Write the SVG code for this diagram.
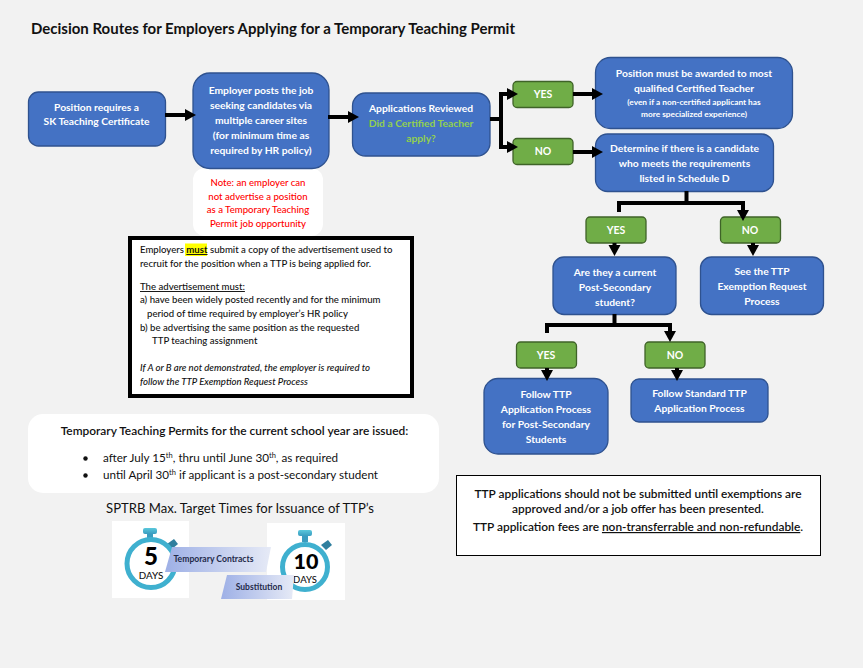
<svg xmlns="http://www.w3.org/2000/svg" width="863" height="668" viewBox="0 0 863 668">
<style>
text{font-family:Lato,Carlito,"Open Sans",sans-serif}
.b{fill:#4472c4;stroke:#2f528f;stroke-width:1.3}
.g{fill:#70ad47;stroke:#3f6328;stroke-width:1.3}
.w{fill:#fff;font-weight:700;font-size:10.3px;text-anchor:middle}
.gt{fill:#fff;font-weight:700;font-size:10.5px;text-anchor:middle}
.k{fill:#111;font-size:9.6px;font-weight:500}
.c{fill:none;stroke:#000;stroke-width:4}
.r{fill:#f00;font-size:9.6px;font-weight:500;text-anchor:middle}
.ring{fill:#fff;stroke:#3fb0cf;stroke-width:5}
</style>
<defs>
<marker id="a" markerUnits="userSpaceOnUse" markerWidth="14" markerHeight="14" refX="2" refY="6.500" orient="auto"><path d="M0 0.500L11 6.500L0 12.500Z" fill="#000"/></marker>
<linearGradient id="pg" x1="0" x2="1" y1="0" y2="0"><stop offset="0" stop-color="#9eb0e6"/><stop offset="1" stop-color="#e6eaf6"/></linearGradient>
<linearGradient id="cap" x1="0" x2="0" y1="0" y2="1"><stop offset="0" stop-color="#5ac8dc"/><stop offset="1" stop-color="#3a9cc0"/></linearGradient>
</defs>
<rect width="863" height="668" fill="#f2f2f2"/>
<text id="title" x="31" y="34" font-size="14.400" font-weight="700" fill="#111" textLength="484" lengthAdjust="spacingAndGlyphs">Decision Routes for Employers Applying for a Temporary Teaching Permit</text>

<g id="note"><rect x="193" y="168" width="130" height="68" rx="12" fill="#fff"/>
<text class="r"><tspan x="258" y="186">Note: an employer can</tspan><tspan x="258" y="200">not advertise a position</tspan><tspan x="258" y="213">as a Temporary Teaching</tspan><tspan x="258" y="227">Permit job opportunity</tspan></text></g>

<g id="n1"><rect class="b" x="28.500" y="92" width="137" height="54" rx="10"/>
<text class="w"><tspan x="96.500" y="111">Position requires a</tspan><tspan x="96.500" y="125">SK Teaching Certificate</tspan></text></g>
<g id="n2"><rect class="b" x="193" y="73" width="136" height="95.500" rx="17"/>
<text class="w"><tspan x="261" y="94">Employer posts the job</tspan><tspan x="261" y="109">seeking candidates via</tspan><tspan x="261" y="124">multiple career sites</tspan><tspan x="261" y="139">(for minimum time as</tspan><tspan x="261" y="154">required by HR policy)</tspan></text></g>
<g id="n3"><rect class="b" x="352.500" y="93" width="137.500" height="63" rx="13"/>
<text class="w"><tspan x="421" y="112">Applications Reviewed</tspan><tspan x="421" y="127" fill="#92d050">Did a Certified Teacher</tspan><tspan x="421" y="142" fill="#92d050">apply?</tspan></text></g>
<g id="yes1"><rect class="g" x="513" y="81.500" width="60" height="26" rx="4"/><text class="gt" x="543" y="98">YES</text></g>
<g id="no1"><rect class="g" x="513" y="138.500" width="60" height="26" rx="4"/><text class="gt" x="543" y="155">NO</text></g>
<g id="n4"><rect class="b" x="595.500" y="57.500" width="197" height="71" rx="15"/>
<text class="w"><tspan x="694" y="77">Position must be awarded to most</tspan><tspan x="694" y="92">qualified Certified Teacher</tspan><tspan x="694" y="105" font-size="8.300">(even if a non-certified applicant has</tspan><tspan x="694" y="117" font-size="8.300">more specialized experience)</tspan></text></g>
<g id="n5"><rect class="b" x="595.500" y="134" width="178" height="57.500" rx="12"/>
<text class="w"><tspan x="684.500" y="152">Determine if there is a candidate</tspan><tspan x="684.500" y="167">who meets the requirements</tspan><tspan x="684.500" y="182">listed in Schedule D</tspan></text></g>
<g id="yes2"><rect class="g" x="586" y="217" width="60" height="26" rx="4"/><text class="gt" x="616" y="234">YES</text></g>
<g id="no2"><rect class="g" x="720.500" y="217" width="60" height="26" rx="4"/><text class="gt" x="750" y="234">NO</text></g>
<g id="n6"><rect class="b" x="553" y="257" width="123" height="57.500" rx="11"/>
<text class="w"><tspan x="615" y="276">Are they a current</tspan><tspan x="615" y="291">Post-Secondary</tspan><tspan x="615" y="306">student?</tspan></text></g>
<g id="n7"><rect class="b" x="700.500" y="257" width="123" height="57.500" rx="11"/>
<text class="w"><tspan x="762" y="275">See the TTP</tspan><tspan x="762" y="290">Exemption Request</tspan><tspan x="762" y="305">Process</tspan></text></g>
<g id="yes3"><rect class="g" x="516.500" y="342" width="60" height="26" rx="4"/><text class="gt" x="546" y="359">YES</text></g>
<g id="no3"><rect class="g" x="645" y="342" width="60" height="26" rx="4"/><text class="gt" x="675" y="359">NO</text></g>
<g id="n8"><rect class="b" x="484" y="378.500" width="124" height="75.500" rx="14"/>
<text class="w"><tspan x="546" y="398">Follow TTP</tspan><tspan x="546" y="413">Application Process</tspan><tspan x="546" y="428">for Post-Secondary</tspan><tspan x="546" y="443">Students</tspan></text></g>
<g id="n9"><rect class="b" x="631" y="379" width="137" height="43" rx="8"/>
<text class="w"><tspan x="699.500" y="397">Follow Standard TTP</tspan><tspan x="699.500" y="412">Application Process</tspan></text></g>

<g id="connectors">
<path class="c" d="M165 115H187" marker-end="url(#a)"/>
<path class="c" d="M328 117H350" marker-end="url(#a)"/>
<path class="c" d="M490 119H501V94H509" marker-end="url(#a)"/>
<path class="c" d="M501 119V147H509" marker-end="url(#a)"/>
<path class="c" d="M573 94H594" marker-end="url(#a)"/>
<path class="c" d="M573 152H594" marker-end="url(#a)"/>
<path class="c" d="M686.500 191V203"/>
<path class="c" d="M619 212V203H743V212" marker-end="url(#a)"/>
<path class="c" d="M614.500 243V247" marker-end="url(#a)"/>
<path class="c" d="M753 243V247" marker-end="url(#a)"/>
<path class="c" d="M614.500 314V325"/>
<path class="c" d="M547 333V325H670V333" marker-end="url(#a)"/>
<path class="c" d="M547 368V372" marker-end="url(#a)"/>
<path class="c" d="M677 368V372" marker-end="url(#a)"/>
</g>

<g id="advert"><rect x="130" y="238" width="282" height="158" fill="#fff" stroke="#000" stroke-width="4"/>
<rect x="185" y="243.500" width="22" height="12.500" fill="#ff0"/>
<text class="k"><tspan x="140" y="253">Employers </tspan><tspan font-weight="700" text-decoration="underline">must</tspan><tspan> submit a copy of the advertisement used to</tspan></text>
<text class="k" x="140" y="267">recruit for the position when a TTP is being applied for.</text>
<text class="k" x="140" y="290" text-decoration="underline">The advertisement must:</text>
<text class="k" x="140" y="303">a) have been widely posted recently and for the minimum</text>
<text class="k" x="147" y="317">period of time required by employer’s HR policy</text>
<text class="k" x="140" y="331">b) be advertising the same position as the requested</text>
<text class="k" x="152" y="344">TTP teaching assignment</text>
<text class="k" x="140" y="371" font-style="italic">If A or B are not demonstrated, the employer is required to</text>
<text class="k" x="140" y="385" font-style="italic">follow the TTP Exemption Request Process</text></g>

<g id="issued"><rect x="28" y="414" width="411" height="79" rx="15" fill="#fff"/>
<text x="234.500" y="435" text-anchor="middle" font-size="11.900" font-weight="600" fill="#111">Temporary Teaching Permits for the current school year are issued:</text>
<circle cx="85.500" cy="458.500" r="2.200" fill="#111"/><circle cx="85.500" cy="475.500" r="2.200" fill="#111"/>
<text x="103" y="462" font-size="11.700" fill="#111">after July 15<tspan font-size="7.500" dy="-4">th</tspan><tspan dy="4">, thru until June 30</tspan><tspan font-size="7.500" dy="-4">th</tspan><tspan dy="4">, as required</tspan></text>
<text x="103" y="479" font-size="11.650" fill="#111">until April 30<tspan font-size="7.500" dy="-4">th</tspan><tspan dy="4"> if applicant is a post-secondary student</tspan></text></g>

<g id="notice"><rect x="456.500" y="475.500" width="364" height="80" fill="#fff" stroke="#000" stroke-width="1"/>
<text font-size="11.900" font-weight="600" fill="#111" text-anchor="middle"><tspan x="638" y="498">TTP applications should not be submitted until exemptions are</tspan><tspan x="638" y="513">approved and/or a job offer has been presented.</tspan></text>
<text x="638" y="531" font-size="11.900" font-weight="600" fill="#111" text-anchor="middle">TTP application fees are <tspan text-decoration="underline">non-transferrable and non-refundable</tspan>.</text></g>

<g id="targets">
<text x="240" y="513" text-anchor="middle" font-size="13.100" fill="#111">SPTRB Max. Target Times for Issuance of TTP’s</text>
<rect x="112" y="521" width="77" height="77" fill="#fff"/>
<rect x="267" y="523" width="78" height="77" fill="#fff"/>
<g>
<rect x="143" y="528" width="14" height="6" rx="2" fill="url(#cap)"/><rect x="147" y="534" width="6" height="5" fill="#3a9cc0"/>
<path d="M167 544l7-5 4 5-6 5z" fill="#2f7f9e"/>
<circle cx="151" cy="563.500" r="24" class="ring"/>
<text x="151" y="565" text-anchor="middle" font-size="24" font-weight="900" fill="#000">5</text>
<text x="151" y="579" text-anchor="middle" font-size="9.800" font-weight="500" fill="#111">DAYS</text>
</g>
<g>
<rect x="298" y="530" width="14" height="6" rx="2" fill="url(#cap)"/><rect x="302" y="536" width="6" height="6" fill="#3a9cc0"/>
<path d="M321 545l7-5 4 5-6 5z" fill="#2f7f9e"/>
<circle cx="305" cy="567" r="22.500" class="ring"/>
<text x="306" y="568.500" text-anchor="middle" font-size="21.500" font-weight="900" fill="#000">10</text>
<text x="305" y="583" text-anchor="middle" font-size="9.500" font-weight="500" fill="#111">DAYS</text>
</g>
<path d="M172 547H271L266 572H165Z" fill="url(#pg)"/>
<path d="M227 575H294L292 599H221Z" fill="url(#pg)"/>
<text x="213.500" y="562" text-anchor="middle" font-size="8.600" font-weight="700" fill="#1f2a4a">Temporary Contracts</text>
<text x="259" y="590" text-anchor="middle" font-size="8.500" font-weight="700" fill="#1f2a4a">Substitution</text>
</g>
</svg>
